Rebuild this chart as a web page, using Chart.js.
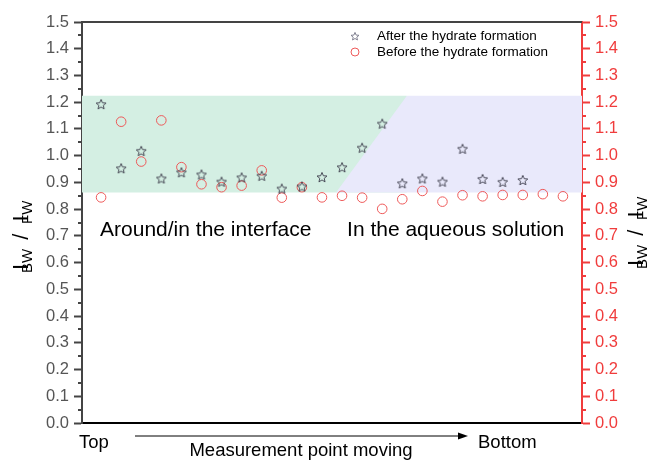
<!DOCTYPE html>
<html>
<head>
<meta charset="utf-8">
<script src="https://cdn.jsdelivr.net/npm/chart.js@4/dist/chart.umd.min.js"></script>
<style>
  html, body { margin: 0; padding: 0; background: #fff; }
  #wrap { width: 651px; height: 460px; }
</style>
</head>
<body>
<div id="wrap"><canvas id="ratioChart"></canvas></div>
<script>
// measurement points, top -> bottom
var pointsAfter = [1,2,3,4,5,6,7,8,9,10,11,12,13,14,15,16,17,18,19,20,21,22];
var ratioAfter = [1.193, 0.953, 1.018, 0.915, 0.938, 0.930, 0.903, 0.919, 0.925, 0.877, 0.885,
                  0.920, 0.957, 1.030, 1.120, 0.897, 0.915, 0.903, 1.026, 0.913, 0.902, 0.909];

var pointsBefore = [1,2,3,4,5,6,7,8,9,10,11,12,13,14,15,16,17,18,19,20,21,22,23,24];
var ratioBefore = [0.844, 1.127, 0.978, 1.132, 0.957, 0.893, 0.882, 0.888, 0.945, 0.843, 0.882, 0.844,
                   0.850, 0.843, 0.801, 0.837, 0.868, 0.828, 0.852, 0.848, 0.853, 0.853, 0.856, 0.848];

// shaded bands (x in point index units, y in ratio)
var bandLow = 0.862, bandHigh = 1.224;
var interfaceX = [0.05, 16.23];
var solutionX = [12.7, 16.23, 24.95];
var solutionY = [bandLow, bandHigh, bandHigh];

var yTicks = [0, 1.5, 0.1];

function toXY(xs, ys) {
  return xs.map(function (x, i) { return { x: x, y: ys[i] }; });
}

function makeStar(size, color) {
  var c = document.createElement('canvas');
  c.width = size; c.height = size;
  var g = c.getContext('2d');
  var cx = size / 2, cy = size / 2 + 0.6, R = size / 2 - 0.8, r = R * 0.45;
  g.beginPath();
  for (var i = 0; i < 10; i++) {
    var a = -Math.PI / 2 + i * Math.PI / 5;
    var rad = i % 2 ? r : R;
    g.lineTo(cx + rad * Math.cos(a), cy + rad * Math.sin(a));
  }
  g.closePath();
  g.strokeStyle = color;
  g.lineWidth = 0.9;
  g.stroke();
  return c;
}

var starImg = makeStar(12, '#3a3a48');
var starSmall = makeStar(10, '#777788');
var red = '#f03c3c';
var circleRed = '#ee5a5a';
var FONT = 'Liberation Sans, Arial, sans-serif';

function drawRatioTitle(ctx, x, y) {
  var parts = [['I', 22, 0], ['BW', 15, 4], [' / ', 22, 0], ['I', 22, 0], ['FW', 15, 4]];
  ctx.save();
  ctx.translate(x, y);
  ctx.rotate(-Math.PI / 2);
  ctx.fillStyle = '#000';
  ctx.textBaseline = 'alphabetic';
  var w = 0;
  parts.forEach(function (p) { ctx.font = p[1] + 'px ' + FONT; w += ctx.measureText(p[0]).width; });
  var px = -w / 2;
  parts.forEach(function (p) {
    ctx.font = p[1] + 'px ' + FONT;
    ctx.fillText(p[0], px, p[2]);
    px += ctx.measureText(p[0]).width;
  });
  ctx.restore();
}

var extras = {
  id: 'extras',
  afterDraw: function (chart) {
    var ctx = chart.ctx, a = chart.chartArea;
    var xs = chart.scales.x, yl = chart.scales.y;
    ctx.save();

    // top frame line
    ctx.strokeStyle = '#444';
    ctx.lineWidth = 2;
    ctx.beginPath();
    ctx.moveTo(a.left - 1, a.top);
    ctx.lineTo(a.right, a.top);
    ctx.stroke();

    // minor ticks
    for (var v = 0.05; v < 1.5; v += 0.1) {
      var py = Math.round(yl.getPixelForValue(v));
      ctx.strokeStyle = '#444';
      ctx.beginPath(); ctx.moveTo(a.left - 4, py); ctx.lineTo(a.left, py); ctx.stroke();
      ctx.strokeStyle = red;
      ctx.beginPath(); ctx.moveTo(a.right, py); ctx.lineTo(a.right + 4, py); ctx.stroke();
    }

    // region labels
    ctx.fillStyle = '#000';
    ctx.font = '21px ' + FONT;
    ctx.textBaseline = 'middle';
    ctx.textAlign = 'left';
    ctx.fillText('Around/in the interface', xs.getPixelForValue(0.95), yl.getPixelForValue(0.723));
    ctx.fillText('In the aqueous solution', xs.getPixelForValue(13.25), yl.getPixelForValue(0.723));

    // legend
    var lx = 355, ly1 = 36, ly2 = 52;
    ctx.drawImage(starSmall, lx - 5, ly1 - 5);
    ctx.strokeStyle = circleRed;
    ctx.lineWidth = 1;
    ctx.beginPath(); ctx.arc(lx, ly2, 4, 0, Math.PI * 2); ctx.stroke();
    ctx.font = '13.5px ' + FONT;
    ctx.fillStyle = '#000';
    ctx.fillText('After the hydrate formation', 377, ly1);
    ctx.fillText('Before the hydrate formation', 377, ly2);

    // bottom annotations
    ctx.font = '18.5px ' + FONT;
    ctx.textBaseline = 'alphabetic';
    ctx.fillText('Top', 79, 448);
    ctx.fillText('Bottom', 478, 448);
    ctx.textAlign = 'center';
    ctx.fillText('Measurement point moving', 301, 456);

    ctx.strokeStyle = '#000';
    ctx.lineWidth = 1;
    ctx.beginPath(); ctx.moveTo(135, 436); ctx.lineTo(460, 436); ctx.stroke();
    ctx.fillStyle = '#000';
    ctx.beginPath(); ctx.moveTo(468, 436); ctx.lineTo(458, 432.5); ctx.lineTo(458, 439.5); ctx.closePath(); ctx.fill();

    // axis titles
    drawRatioTitle(ctx, 28, 228);
    drawRatioTitle(ctx, 643, 224);
    ctx.restore();
  }
};

var yAxis = function (pos, color, labelColor, width) {
  return {
    type: 'linear',
    position: pos,
    min: yTicks[0],
    max: yTicks[1],
    ticks: {
      stepSize: yTicks[2],
      color: labelColor,
      font: { family: FONT, size: 16.5 },
      padding: 5,
      callback: function (v) { return Number(v).toFixed(1); }
    },
    grid: { drawOnChartArea: false, drawTicks: true, tickLength: 8, color: color, tickWidth: 2 },
    border: { color: color, width: 2 },
    afterFit: function (s) { s.width = width; }
  };
};

var ctx = document.getElementById('ratioChart').getContext('2d');
var ratioChart = new Chart(ctx, {
  type: 'line',
  data: {
    datasets: [
      {
        label: 'After the hydrate formation',
        data: toXY(pointsAfter, ratioAfter),
        showLine: false,
        pointStyle: starImg,
        yAxisID: 'y',
        order: 1
      },
      {
        label: 'Before the hydrate formation',
        data: toXY(pointsBefore, ratioBefore),
        showLine: false,
        pointStyle: 'circle',
        pointRadius: 4.8,
        pointBorderColor: circleRed,
        pointBackgroundColor: 'rgba(0,0,0,0)',
        pointBorderWidth: 1,
        yAxisID: 'y2',
        order: 2
      },
      {
        label: 'solution band',
        data: toXY(solutionX, solutionY),
        borderColor: 'rgba(0,0,0,0)',
        backgroundColor: '#e9e9fb',
        fill: { target: { value: bandLow } },
        pointRadius: 0,
        tension: 0,
        yAxisID: 'y',
        order: 3
      },
      {
        label: 'interface band',
        data: toXY(interfaceX, [bandHigh, bandHigh]),
        borderColor: 'rgba(0,0,0,0)',
        backgroundColor: '#d4efe3',
        fill: { target: { value: bandLow } },
        pointRadius: 0,
        tension: 0,
        yAxisID: 'y',
        order: 4
      }
    ]
  },
  options: {
    responsive: true,
    maintainAspectRatio: false,
    animation: false,
    layout: { padding: { top: 22, left: 0, right: 0, bottom: 0 } },
    plugins: {
      legend: { display: false },
      tooltip: { enabled: false },
      filler: { propagate: false }
    },
    scales: {
      x: {
        type: 'linear',
        min: 0.05,
        max: 24.95,
        ticks: { display: false },
        grid: { display: false },
        border: { color: '#000', width: 2 },
        afterFit: function (s) { s.height = 37; }
      },
      y: yAxis('left', '#444', '#555', 82),
      y2: yAxis('right', red, red, 69)
    }
  },
  plugins: [extras]
});
</script>
</body>
</html>
